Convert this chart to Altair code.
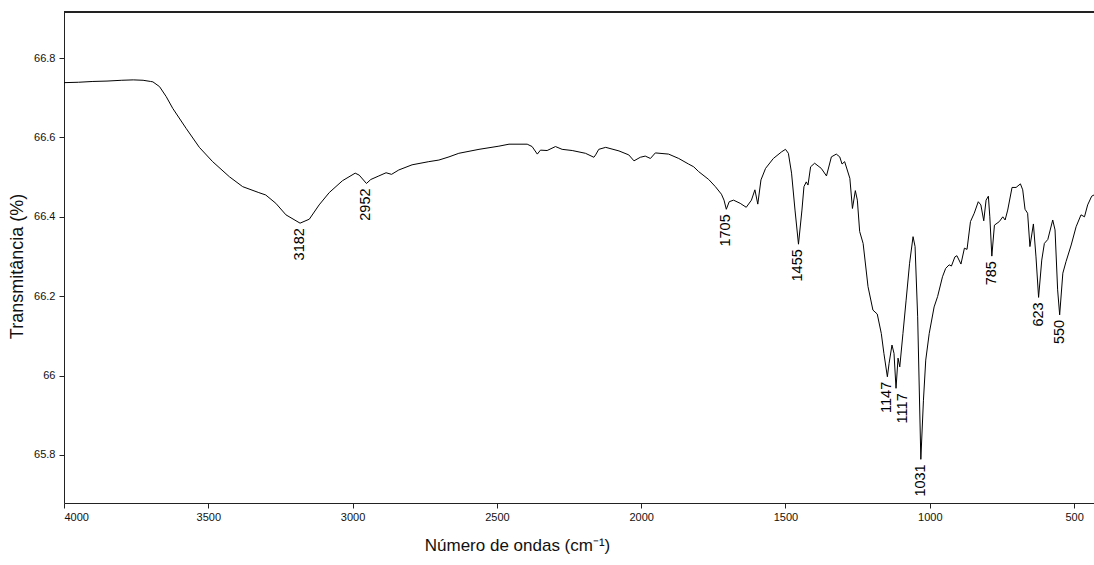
import altair as alt
import pandas as pd

# FTIR spectrum
wavenumber = [
    4000, 3950, 3900, 3851, 3800, 3760, 3726, 3700, 3692, 3669, 3646, 3623,
    3577, 3531, 3485, 3427, 3381, 3325, 3301, 3266, 3231, 3182, 3150, 3116,
    3081, 3035, 2991, 2977, 2952, 2937, 2909, 2884, 2865, 2840, 2794, 2736,
    2701, 2666, 2632, 2562, 2493, 2458, 2395, 2378, 2360, 2349, 2326, 2297,
    2274, 2239, 2193, 2164, 2158, 2147, 2123, 2077, 2043, 2025, 2003, 1986,
    1968, 1951, 1905, 1870, 1836, 1818, 1801, 1766, 1743, 1722, 1713, 1705,
    1695, 1680, 1657, 1636, 1618, 1606, 1596, 1585, 1569, 1542, 1513, 1500,
    1490, 1479, 1467, 1455, 1443, 1436, 1428, 1422, 1413, 1399, 1376, 1358,
    1341, 1324, 1312, 1304, 1295, 1277, 1268, 1258, 1251, 1243, 1231, 1214,
    1197, 1182, 1168, 1159, 1147, 1141, 1131, 1124, 1117, 1110, 1104, 1093,
    1082, 1070, 1058, 1051, 1042, 1031, 1022, 1014, 1002, 985, 973, 956,
    945, 933, 925, 913, 906, 892, 880, 871, 859, 846, 832, 823,
    813, 805, 797, 792, 785, 776, 759, 747, 739, 730, 715, 701,
    686, 678, 670, 661, 653, 641, 632, 623, 612, 603, 591, 574,
    566, 557, 550, 539, 528, 510, 493, 476, 464, 453, 439, 431,
]
transmittance = [
    66.738, 66.739, 66.741, 66.742, 66.744, 66.745, 66.744, 66.741, 66.740, 66.728, 66.703, 66.673,
    66.623, 66.575, 66.539, 66.501, 66.476, 66.461, 66.455, 66.434, 66.405, 66.384, 66.394, 66.430,
    66.461, 66.491, 66.510, 66.505, 66.484, 66.494, 66.503, 66.511, 66.507, 66.518, 66.531, 66.539,
    66.543, 66.551, 66.560, 66.570, 66.578, 66.583, 66.583, 66.577, 66.558, 66.568, 66.567, 66.577,
    66.570, 66.567, 66.560, 66.550, 66.556, 66.570, 66.575, 66.566, 66.556, 66.541, 66.550, 66.553,
    66.547, 66.561, 66.558, 66.547, 66.533, 66.526, 66.514, 66.494, 66.476, 66.457, 66.442, 66.419,
    66.438, 66.442, 66.434, 66.424, 66.442, 66.468, 66.432, 66.493, 66.522, 66.547, 66.564, 66.570,
    66.560, 66.510, 66.417, 66.331, 66.417, 66.476, 66.488, 66.480, 66.526, 66.535, 66.522, 66.503,
    66.551, 66.558, 66.551, 66.533, 66.539, 66.497, 66.421, 66.466, 66.442, 66.363, 66.333, 66.224,
    66.165, 66.155, 66.106, 66.056, 65.997, 66.031, 66.077, 66.056, 65.968, 66.044, 66.022, 66.106,
    66.190, 66.283, 66.350, 66.325, 66.148, 65.789, 65.938, 66.039, 66.106, 66.173, 66.199, 66.249,
    66.270, 66.279, 66.276, 66.299, 66.302, 66.281, 66.321, 66.318, 66.388, 66.409, 66.438, 66.430,
    66.390, 66.442, 66.452, 66.400, 66.301, 66.379, 66.388, 66.400, 66.392, 66.417, 66.474, 66.474,
    66.483, 66.468, 66.419, 66.409, 66.325, 66.382, 66.299, 66.197, 66.291, 66.333, 66.343, 66.392,
    66.367, 66.216, 66.153, 66.258, 66.287, 66.329, 66.375, 66.405, 66.400, 66.430, 66.452, 66.455,
]

# annotated band positions
peak_wn = [3182, 2952, 1705, 1455, 1147, 1117, 1031, 785, 623, 550]
peak_t = [66.384, 66.484, 66.419, 66.331, 65.997, 65.968, 65.789, 66.301, 66.197, 66.153]
peak_text = ["3182", "2952", "1705", "1455", "1147", "1117", "1031", "785", "623", "550"]

x_ticks = [4000, 3500, 3000, 2500, 2000, 1500, 1000, 500]
y_ticks = [65.8, 66.0, 66.2, 66.4, 66.6, 66.8]
x_domain = [4000, 431]
y_domain = [65.679, 66.916]

spec = pd.DataFrame({"wn": wavenumber, "t": transmittance, "i": range(len(wavenumber))})
peaks = pd.DataFrame({"wn": peak_wn, "t": peak_t, "label": peak_text})

W, H = 1030, 491
FONT = "Liberation Sans, Arial, Helvetica, sans-serif"

xscale = alt.Scale(domain=x_domain, nice=False, zero=False)
yscale = alt.Scale(domain=y_domain, nice=False, zero=False)

xaxis = alt.Axis(
    values=x_ticks, format="d", grid=False, tickSize=5, labelFontSize=11, labelFont=FONT,
    labelColor="#111", domainColor="#222", tickColor="#222", labelPadding=3,
    title="Número de ondas (cm⁻¹)", titleFont=FONT, titleFontSize=17,
    titleFontWeight="normal", titleColor="#111", titleX=453, titleY=42,
    titleBaseline="middle", titleAlign="center",
)
yaxis = alt.Axis(
    values=y_ticks, grid=False, tickSize=5, labelFontSize=11, labelFont=FONT,
    labelColor="#111", domainColor="#222", tickColor="#222", format="~g",
    labelPadding=4,
    title="Transmitância (%)", titleFont=FONT, titleFontSize=18,
    titleFontWeight="normal", titleColor="#111", titleX=-47, titleY=254,
    titleAngle=270, titleBaseline="middle", titleAlign="center",
)

line = alt.Chart(spec).mark_line(color="black", strokeWidth=1, clip=True).encode(
    x=alt.X("wn:Q", scale=xscale, axis=xaxis),
    y=alt.Y("t:Q", scale=yscale, axis=yaxis),
    order="i:Q",
)

text_style = dict(angle=270, align="right", baseline="middle", dx=-5,
                  font=FONT, fontSize=14.5, color="black")

labels = alt.Chart(peaks).transform_filter(
    "datum.label != '1117'"
).mark_text(**text_style).encode(
    x=alt.X("wn:Q", scale=xscale),
    y=alt.Y("t:Q", scale=yscale),
    text="label:N",
)

# the 1117 label is nudged right in the reference to clear 1147
label_1117 = alt.Chart(peaks).transform_filter(
    "datum.label == '1117'"
).mark_text(dy=7, **text_style).encode(
    x=alt.X("wn:Q", scale=xscale),
    y=alt.Y("t:Q", scale=yscale),
    text="label:N",
)

top_border = alt.Chart(peaks).mark_rule(color="#222", strokeWidth=1).encode(
    x=alt.value(0), x2=alt.value(W), y=alt.value(0)
)

chart = alt.layer(line, labels, label_1117, top_border).properties(
    width=W, height=H,
    autosize=alt.AutoSizeParams(type="none"),
    padding={"left": 64, "top": 12, "right": 0, "bottom": 62},
    background="white",
).configure_view(stroke=None)

chart.save("out.html", embed_options={"renderer": "svg", "actions": False})
